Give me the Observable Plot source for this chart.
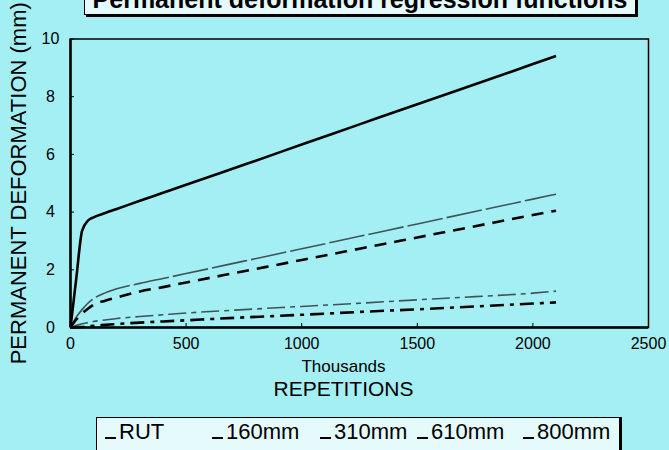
<!DOCTYPE html>
<html><head><meta charset="utf-8">
<script src="https://cdn.jsdelivr.net/npm/d3@7"></script>
<script src="https://cdn.jsdelivr.net/npm/@observablehq/plot@0.6"></script>
<style>
html,body{margin:0;padding:0;background:#a3eff4;}
#wrap{position:relative;width:669px;height:450px;overflow:hidden;background:#a3eff4;font-family:"Liberation Sans",Arial,sans-serif;color:#000;}
#chart{position:absolute;left:0;top:0;}
#title{position:absolute;left:84px;top:-18px;width:552px;height:33px;border:1.5px solid #000;box-shadow:2px 2px 0 #000;background:#e4fafb;font-weight:bold;font-size:25px;line-height:25px;padding-top:4px;box-sizing:border-box;text-align:center;white-space:nowrap;}
#legend{position:absolute;left:96px;top:417px;width:524px;height:60px;border:1.5px solid #000;box-shadow:2px 0 0 #000;background:#e4fafb;box-sizing:border-box;}
.item{position:absolute;top:2px;font-size:22px;line-height:24px;white-space:nowrap;}
.sw{display:inline-block;width:11px;height:2.5px;background:#000;margin-right:3px;vertical-align:baseline;}
</style>
</head><body>
<div id="wrap">
  <div id="chart"></div>
  <div id="title">Permanent deformation regression functions</div>
  <div id="legend"></div>
</div>
<script>
// Repetitions (thousands)
const reps  = [0, 25, 50, 75, 100, 150, 200, 300, 400, 500, 750, 1000, 1250, 1500, 1750, 2000, 2100];
// Permanent deformation (mm)
const rut   = [0, 1.70, 3.35, 3.70, 3.82, 3.97, 4.11, 4.39, 4.67, 4.95, 5.64, 6.34, 7.04, 7.74, 8.43, 9.13, 9.41];
const mm160 = [0, 0.36, 0.62, 0.84, 1.00, 1.20, 1.34, 1.53, 1.70, 1.87, 2.30, 2.73, 3.16, 3.59, 4.02, 4.45, 4.62];
const mm310 = [0, 0.28, 0.48, 0.65, 0.79, 0.93, 1.04, 1.25, 1.40, 1.56, 1.95, 2.34, 2.73, 3.12, 3.51, 3.90, 4.05];
const mm610 = [0, 0.08, 0.13, 0.17, 0.21, 0.26, 0.31, 0.38, 0.44, 0.50, 0.62, 0.73, 0.84, 0.96, 1.07, 1.19, 1.26];
const mm800 = [0, 0.01, 0.02, 0.04, 0.06, 0.09, 0.12, 0.17, 0.21, 0.25, 0.35, 0.44, 0.54, 0.63, 0.73, 0.83, 0.87];

const seriesNames = ["RUT", "160mm", "310mm", "610mm", "800mm"];
const xTicks = [0, 500, 1000, 1500, 2000, 2500];
const yTicks = [0, 2, 4, 6, 8, 10];
const titleText = "Permanent deformation regression functions";
const yLabel = "PERMANENT DEFORMATION (mm)";
const xUnit = "Thousands";
const xLabel = "REPETITIONS";

const seriesValues = [rut, mm160, mm310, mm610, mm800];
const styles = [
  {stroke: "#000", strokeWidth: 2.6},
  {stroke: "#3f5456", strokeWidth: 1.6, strokeDasharray: "36,4"},
  {stroke: "#000", strokeWidth: 2.6, strokeDasharray: "12,8"},
  {stroke: "#3f5456", strokeWidth: 1.6, strokeDasharray: "18,5,5,5"},
  {stroke: "#000", strokeWidth: 2.6, strokeDasharray: "14,6,4,6"}
];

const lineMarks = seriesValues.map((vals, s) =>
  Plot.line(reps.map((r, i) => ({x: r, y: vals[i]})),
    {x: "x", y: "y", curve: "monotone-x", strokeLinecap: "butt", ...styles[s]}));

const chart = Plot.plot({
  width: 669, height: 450,
  marginLeft: 70, marginRight: 21, marginTop: 38.5, marginBottom: 123,
  style: {background: "transparent", fontFamily: "'Liberation Sans', Arial, sans-serif", color: "#000", overflow: "visible"},
  x: {domain: [0, 2500]},
  y: {domain: [0, 10]},
  marks: [
    Plot.frame({stroke: "#000", strokeWidth: 1.5}),
    Plot.ruleY([0], {stroke: "#000", strokeWidth: 2.5}),
    Plot.ruleX([0], {stroke: "#000", strokeWidth: 2.5}),
    Plot.axisX({ticks: xTicks, tickSize: -4, tickPadding: 14, tickFormat: d => String(d), label: null, fontSize: 16}),
    Plot.axisY({ticks: yTicks, tickSize: -4, tickPadding: 24, textAnchor: "middle", tickFormat: d => String(d), label: null, fontSize: 16}),
    ...lineMarks,
    Plot.text([xUnit], {frameAnchor: "bottom", lineAnchor: "middle", dy: 39, dx: -16, fontSize: 17}),
    Plot.text([xLabel], {frameAnchor: "bottom", lineAnchor: "middle", dy: 62, dx: -16, fontSize: 21}),
    Plot.text([yLabel], {frameAnchor: "left", textAnchor: "middle", lineAnchor: "middle", rotate: -90, dx: -52, dy: 0, fontSize: 22})
  ]
});
document.getElementById("chart").appendChild(chart);
document.getElementById("title").textContent = titleText;

const legendX = [8, 115, 223, 320, 426];
const legend = document.getElementById("legend");
seriesNames.forEach((n, i) => {
  const it = document.createElement("div");
  it.className = "item";
  it.style.left = legendX[i] + "px";
  it.innerHTML = '<span class="sw"></span>' + n;
  legend.appendChild(it);
});
</script>
</body></html>
